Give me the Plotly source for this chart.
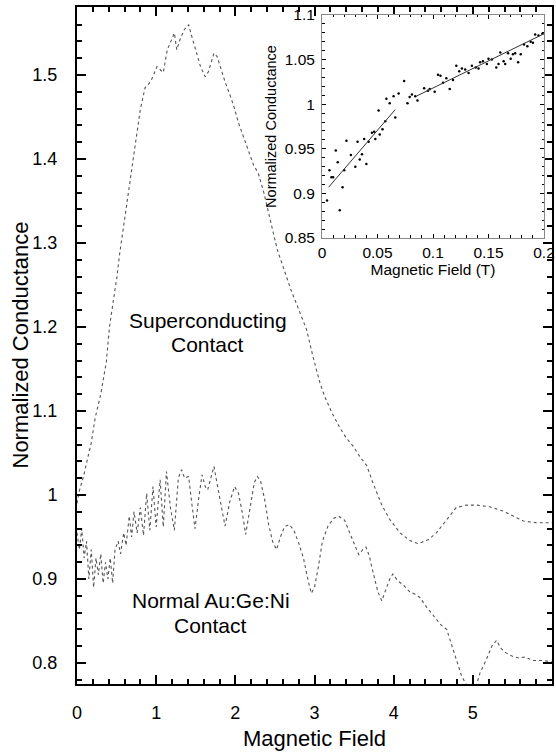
import plotly.graph_objects as go

# ---- main panel data ----
sc_x = [0.00, 0.03, 0.06, 0.09, 0.13, 0.18, 0.23, 0.30, 0.37, 0.41, 0.46, 0.505, 0.54, 0.59, 0.62,
        0.67, 0.75, 0.80, 0.86, 0.93, 1.01, 1.06, 1.09, 1.14, 1.20, 1.23, 1.26, 1.30, 1.355, 1.41,
        1.45, 1.49, 1.56, 1.62, 1.66, 1.73, 1.77, 1.81, 1.87, 1.93, 1.98, 2.04, 2.10, 2.17, 2.23,
        2.29, 2.36, 2.42, 2.48, 2.53, 2.70, 2.84, 2.90, 2.98, 3.07, 3.13, 3.22, 3.32, 3.40, 3.49,
        3.57, 3.66, 3.74, 3.85, 3.95, 4.08, 4.20, 4.31, 4.44, 4.54, 4.67, 4.79, 4.92, 5.05, 5.21,
        5.38, 5.51, 5.64, 5.80, 5.97, 6.00]
sc_y = [0.990, 1.005, 1.015, 1.025, 1.042, 1.062, 1.092, 1.120, 1.158, 1.200, 1.232, 1.260, 1.288, 1.320, 1.344,
        1.375, 1.427, 1.459, 1.485, 1.492, 1.510, 1.505, 1.503, 1.530, 1.543, 1.550, 1.530, 1.542, 1.554, 1.560,
        1.546, 1.532, 1.510, 1.498, 1.504, 1.526, 1.522, 1.510, 1.492, 1.477, 1.463, 1.443, 1.427, 1.411, 1.393,
        1.383, 1.360, 1.336, 1.312, 1.292, 1.245, 1.212, 1.197, 1.165, 1.133, 1.117, 1.098, 1.080, 1.068, 1.058,
        1.046, 1.035, 1.014, 0.988, 0.971, 0.955, 0.946, 0.942, 0.947, 0.955, 0.971, 0.985, 0.988, 0.988, 0.986,
        0.981, 0.975, 0.969, 0.967, 0.967, 0.967]

nm_x = [0.00, 0.03, 0.06, 0.09, 0.12, 0.15, 0.18, 0.21, 0.24, 0.27, 0.30, 0.33, 0.36, 0.39, 0.42,
        0.45, 0.48, 0.52, 0.55, 0.59, 0.62, 0.66, 0.69, 0.72, 0.76, 0.80, 0.84, 0.88, 0.92, 0.96,
        1.00, 1.05, 1.09, 1.13, 1.18, 1.23, 1.28, 1.32, 1.36, 1.41, 1.45, 1.49, 1.54, 1.58, 1.62,
        1.65, 1.69, 1.73, 1.78, 1.83, 1.87, 1.93, 1.99, 2.04, 2.09, 2.13, 2.19, 2.24, 2.28, 2.32,
        2.37, 2.42, 2.47, 2.52, 2.57, 2.62, 2.68, 2.74, 2.80, 2.86, 2.92, 2.96, 3.00, 3.05, 3.10,
        3.17, 3.24, 3.30, 3.38, 3.44, 3.51, 3.56, 3.61, 3.65, 3.69, 3.74, 3.80, 3.85, 3.90, 3.95,
        3.99, 4.05, 4.12, 4.20, 4.27, 4.33, 4.42, 4.52, 4.60, 4.67, 4.73, 4.79, 4.86, 4.92, 4.98,
        5.04, 5.09, 5.17, 5.24, 5.30, 5.35, 5.42, 5.50, 5.58, 5.66, 5.76, 5.89, 6.00]
nm_y = [0.955, 0.935, 0.960, 0.925, 0.945, 0.900, 0.935, 0.890, 0.925, 0.905, 0.930, 0.895, 0.920, 0.900, 0.925,
        0.895, 0.935, 0.945, 0.930, 0.955, 0.940, 0.975, 0.950, 0.980, 0.955, 0.985, 0.952, 1.002, 0.958, 1.010,
        0.962, 1.018, 0.962, 1.028, 0.985, 0.958, 1.020, 1.030, 1.020, 1.022, 0.990, 0.960, 0.998, 1.024, 1.010,
        1.006, 1.020, 1.034, 1.008, 0.980, 0.963, 0.992, 1.010, 1.002, 0.978, 0.953, 0.985, 1.015, 1.022, 1.016,
        0.995, 0.965, 0.945, 0.935, 0.950, 0.962, 0.965, 0.958, 0.943, 0.925, 0.898, 0.883, 0.890, 0.915, 0.945,
        0.963, 0.972, 0.975, 0.970, 0.955, 0.940, 0.929, 0.935, 0.938, 0.928, 0.908, 0.885, 0.874, 0.888, 0.900,
        0.906, 0.898, 0.893, 0.885, 0.882, 0.878, 0.866, 0.854, 0.845, 0.840, 0.822, 0.806, 0.784, 0.774, 0.770,
        0.772, 0.788, 0.804, 0.820, 0.827, 0.818, 0.812, 0.808, 0.806, 0.807, 0.803, 0.803, 0.801]

# ---- inset data ----
in_x = [0.0045, 0.0067, 0.0085, 0.010, 0.0124, 0.0142, 0.016, 0.0185, 0.020, 0.022, 0.026, 0.030,
        0.032, 0.034, 0.036, 0.038, 0.040, 0.042, 0.045, 0.047, 0.048, 0.051, 0.052, 0.0545, 0.057,
        0.058, 0.061, 0.0645, 0.066, 0.069, 0.074, 0.077, 0.079, 0.081, 0.084, 0.086, 0.092, 0.0955,
        0.097, 0.1015, 0.1045, 0.1067, 0.109, 0.112, 0.115, 0.118, 0.121, 0.1236, 0.126, 0.129, 0.132,
        0.135, 0.1385, 0.141, 0.1424, 0.145, 0.1485, 0.150, 0.153, 0.157, 0.159, 0.1606, 0.1636, 0.165,
        0.1676, 0.170, 0.172, 0.174, 0.1767, 0.179, 0.182, 0.185, 0.188, 0.190, 0.192, 0.195, 0.1985]
in_y = [0.892, 0.926, 0.918, 0.918, 0.948, 0.935, 0.881, 0.907, 0.926, 0.959, 0.943, 0.930,
        0.958, 0.938, 0.944, 0.961, 0.933, 0.958, 0.968, 0.969, 0.961, 0.993, 0.966, 0.972, 0.981,
        1.006, 1.001, 1.009, 0.985, 1.012, 1.026, 1.001, 1.008, 1.011, 1.009, 1.004, 1.018, 1.015,
        1.017, 1.014, 1.033, 1.032, 1.024, 1.029, 1.017, 1.027, 1.043, 1.037, 1.040, 1.039, 1.035,
        1.043, 1.041, 1.040, 1.047, 1.048, 1.045, 1.051, 1.050, 1.041, 1.045, 1.058, 1.048, 1.045,
        1.057, 1.051, 1.056, 1.057, 1.047, 1.056, 1.067, 1.065, 1.070, 1.069, 1.078, 1.077, 1.079]
fit1_x = [0.006, 0.066]
fit1_y = [0.907, 0.994]
fit2_x = [0.085, 0.200]
fit2_y = [1.009, 1.079]

FONT = "Liberation Sans, Arial, sans-serif"

fig = go.Figure()
fig.add_trace(go.Scatter(x=sc_x, y=sc_y, mode="lines", line=dict(color="#555", width=1.1, dash="dot"),
                         xaxis="x", yaxis="y", showlegend=False))
fig.add_trace(go.Scatter(x=nm_x, y=nm_y, mode="lines", line=dict(color="#555", width=1.1, dash="dot"),
                         xaxis="x", yaxis="y", showlegend=False))
fig.add_trace(go.Scatter(x=in_x, y=in_y, mode="markers", marker=dict(color="black", size=2.5),
                         xaxis="x2", yaxis="y2", showlegend=False))
fig.add_trace(go.Scatter(x=fit1_x, y=fit1_y, mode="lines", line=dict(color="#333", width=1),
                         xaxis="x2", yaxis="y2", showlegend=False))
fig.add_trace(go.Scatter(x=fit2_x, y=fit2_y, mode="lines", line=dict(color="#333", width=1),
                         xaxis="x2", yaxis="y2", showlegend=False))

main_axis = dict(showline=True, linewidth=2, linecolor="black", mirror="ticks", ticks="inside",
                 tickwidth=2, tickcolor="black", ticklen=9, showgrid=False, zeroline=False,
                 tickfont=dict(size=18, color="black"))
inset_axis = dict(showline=True, linewidth=1, linecolor="#888", mirror="ticks", ticks="inside",
                  tickwidth=1, tickcolor="black", ticklen=4, showgrid=False, zeroline=False,
                  tickfont=dict(size=15.5, color="black"))

fig.update_layout(
    width=556, height=755,
    margin=dict(l=77, r=4, t=7, b=71, autoexpand=False),
    paper_bgcolor="white", plot_bgcolor="white",
    font=dict(family=FONT, color="black"),
    xaxis=dict(**main_axis, range=[0, 6], tick0=0, dtick=1, domain=[0, 1],
               minor=dict(dtick=0.2, ticks="inside", ticklen=5, tickwidth=1.5, tickcolor="black"),
               ticklabelstandoff=11,
               title=dict(text="Magnetic Field", font=dict(size=22), standoff=9)),
    yaxis=dict(**main_axis, range=[0.775, 1.581], tick0=0.8, dtick=0.1, domain=[0, 1],
               minor=dict(dtick=0.02, tick0=0.8, ticks="inside", ticklen=5, tickwidth=1.5, tickcolor="black"),
               ticklabelstandoff=14),
    xaxis2=dict(**inset_axis, range=[0, 0.2], tick0=0, dtick=0.05, anchor="y2",
                domain=[0.5158, 0.9832],
                minor=dict(dtick=0.01, ticks="inside", ticklen=2.5, tickwidth=1, tickcolor="black"),
                ticklabelstandoff=0,
                title=dict(text="Magnetic Field (T)", font=dict(size=15.5), standoff=0)),
    yaxis2=dict(**inset_axis, range=[0.85, 1.1], tick0=0.85, dtick=0.05, anchor="x2",
                domain=[0.6588, 0.9882],
                minor=dict(dtick=0.01, tick0=0.85, ticks="inside", ticklen=2.5, tickwidth=1, tickcolor="black"),
                ticklabelstandoff=3,
                title=dict(text="Normalized Conductance", font=dict(size=14.5), standoff=4)),
    annotations=[
        dict(text="Normalized Conductance", x=-0.12, y=0.5, xref="paper", yref="paper",
             textangle=-90, xanchor="center", yanchor="middle", showarrow=False,
             font=dict(size=22, color="black")),
        dict(text="Superconducting", x=1.654, y=1.208, xref="x", yref="y", showarrow=False,
             font=dict(size=21, color="black")),
        dict(text="Contact", x=1.654, y=1.179, xref="x", yref="y", showarrow=False,
             font=dict(size=21, color="black")),
        dict(text="Normal Au:Ge:Ni", x=1.69, y=0.874, xref="x", yref="y", showarrow=False,
             font=dict(size=21, color="black")),
        dict(text="Contact", x=1.69, y=0.845, xref="x", yref="y", showarrow=False,
             font=dict(size=21, color="black")),
    ],
)

fig.write_html("out.html")
